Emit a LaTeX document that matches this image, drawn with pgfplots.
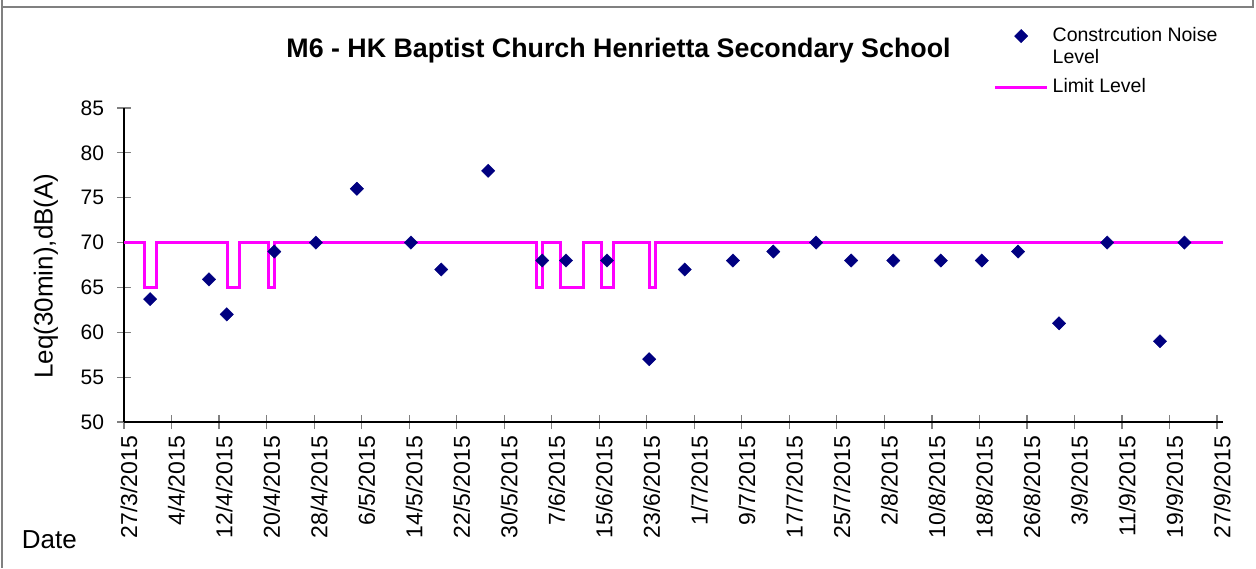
\documentclass[border=0pt]{standalone}
\usepackage{pgfplots}
\pgfplotsset{compat=1.18}
\usepackage{fontspec}
\setmainfont{Liberation Sans}
\definecolor{navymark}{RGB}{0,0,128}
\definecolor{limitmag}{RGB}{255,0,255}
\definecolor{framegray}{RGB}{128,128,128}
\pgfplotsset{
  markleg/.style={legend image code/.code={\path[draw=none,fill=none] (0pt,-5.5pt) rectangle (26pt,5.5pt);\draw[##1,mark repeat=2,mark phase=2] plot coordinates {(0pt,5.5pt)(13pt,5.5pt)(26pt,5.5pt)};}},
  lineleg/.style={legend image code/.code={\draw[##1] (0pt,0pt) -- (26pt,0pt);}},
}
\begin{document}
\begin{tikzpicture}
\useasboundingbox (0,0) rectangle (628pt,-284pt);
\draw[framegray, line width=1pt] (1pt,0pt) -- (1pt,-284pt);
\draw[framegray, line width=1pt] (1pt,-3.5pt) -- (626.5pt,-3.5pt) -- (626.5pt,0pt);
\begin{axis}[
  at={(62pt,-211pt)}, anchor=south west,
  scale only axis, width=549.5pt, height=157pt,
  xmin=0, xmax=185, ymin=50, ymax=85,
  axis x line*=bottom, axis y line*=left,
  axis line style={black, line width=0.6pt},
  xtick={0,8,...,184},
  xticklabels={27/3/2015,4/4/2015,12/4/2015,20/4/2015,28/4/2015,6/5/2015,14/5/2015,22/5/2015,30/5/2015,7/6/2015,15/6/2015,23/6/2015,1/7/2015,9/7/2015,17/7/2015,25/7/2015,2/8/2015,10/8/2015,18/8/2015,26/8/2015,3/9/2015,11/9/2015,19/9/2015,27/9/2015},
  ytick={50,55,...,85},
  tick align=center, major tick length=7pt,
  tick style={framegray, line width=0.6pt},
  /pgf/number format/assume math mode=true,
  xticklabel style={rotate=90, anchor=east, yshift=-2.5pt, font=\fontsize{11.5}{13}\selectfont},
  yticklabel style={xshift=-3pt, font=\fontsize{10.5}{12}\selectfont},
  title={M6 - HK Baptist Church Henrietta Secondary School},
  title style={font=\fontsize{13.4}{15}\selectfont\bfseries, at={(rel axis cs:0.45,1.146)}, anchor=center},
  ylabel={Leq(30min),dB(A)},
  ylabel style={font=\fontsize{13}{15}\selectfont, at={(rel axis cs:-0.071,0.465)}, anchor=center, rotate=0},
  xlabel={Date},
  xlabel style={font=\fontsize{13}{15}\selectfont, at={(rel axis cs:-0.068,-0.376)}, anchor=center},
  legend style={draw=none, fill=none, at={(rel axis cs:0.7855,1.283)}, anchor=north west,
    font=\fontsize{9.75}{11}\selectfont, nodes={align=left}, row sep=2pt},
  legend cell align=left,
  clip=false,
]
\addplot[only marks, mark=square*, mark size=2.35pt, mark options={rotate=45, fill=navymark, draw=navymark, line width=0.2pt}, markleg]
coordinates {
(4.4,63.7) (14.3,65.9) (17.3,62.0) (25.3,69) (32.3,70) (39.2,76) (48.3,70) (53.4,67)
(61.3,78) (70.4,68) (74.4,68) (81.3,68) (88.4,57) (94.4,67) (102.5,68) (109.3,69)
(116.5,70) (122.4,68) (129.5,68) (137.5,68) (144.4,68) (150.5,69) (157.4,61) (165.5,70)
(174.4,59) (178.5,70)
};
\addlegendentry{Constrcution Noise\\Level}
\addplot[limitmag, line width=1.5pt, line join=miter, lineleg]
coordinates {
(0,70)(3.4,70)(3.4,65)(5.4,65)(5.4,70)(17.4,70)(17.4,65)(19.4,65)(19.4,70)
(24.4,70)(24.4,65)(25.4,65)(25.4,70)(69.4,70)(69.4,65)(70.4,65)(70.4,70)
(73.4,70)(73.4,65)(77.4,65)(77.4,70)(80.4,70)(80.4,65)(82.4,65)(82.4,70)
(88.4,70)(88.4,65)(89.4,65)(89.4,70)(185,70)
};
\addlegendentry{Limit Level}
\end{axis}
\end{tikzpicture}
\end{document}
